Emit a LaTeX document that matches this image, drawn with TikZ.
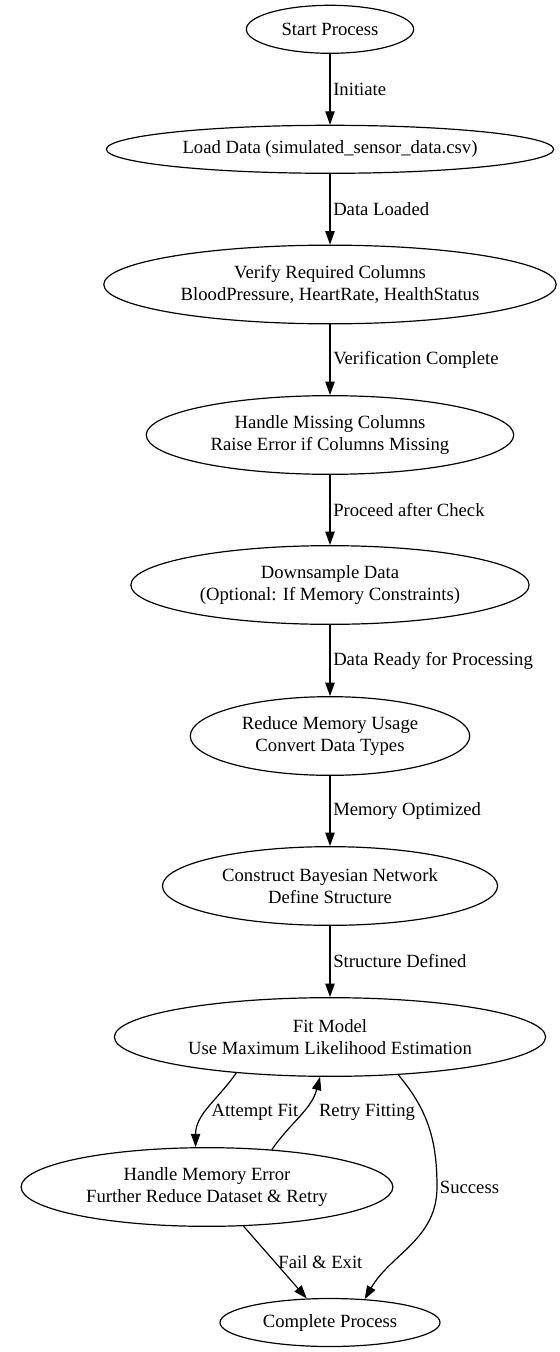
\documentclass[tikz,border=0pt]{standalone}
\usepackage{fontspec}
\setmainfont{Liberation Serif}
\usetikzlibrary{shapes.geometric, arrows.meta}
\tikzstyle{arrow} = [line width=0.9pt,-{Triangle[length=10pt,width=7pt]}]

\begin{document}
\begin{tikzpicture}[
            x=0.75pt, y=-0.75pt,
            proc/.style={draw, ellipse, line width=0.9pt, inner xsep=8pt, inner ysep=4pt,
                minimum height=36pt, align=center, font=\fontsize{14}{16.8}\selectfont},
            proctwo/.style={proc, minimum height=59pt},
            lbl/.style={inner sep=2pt, font=\fontsize{14}{16.8}\selectfont}
        ]
            \useasboundingbox (0,0) rectangle (560,1352);
            % main chain
            \node[proc] (start) at (330,29.3) {Start Process};
            \node[proc] (load) at (330,149.3) {Load Data (simulated\_sensor\_data.csv)};
            \node[proctwo] (verify) at (330,284.5) {Verify Required Columns\\BloodPressure, HeartRate, HealthStatus};
            \node[proctwo] (missing) at (330,435) {Handle Missing Columns\\Raise Error if Columns Missing};
            \node[proctwo] (downsample) at (330,585) {Downsample Data\\(Optional: If Memory Constraints)};
            \node[proctwo] (reduce) at (330,736) {Reduce Memory Usage\\Convert Data Types};
            \node[proctwo] (construct) at (330,886) {Construct Bayesian Network\\Define Structure};
            \node[proctwo] (fit) at (330,1037) {Fit Model\\Use Maximum Likelihood Estimation};
            \node[proctwo] (memerr) at (207,1187) {Handle Memory Error\\Further Reduce Dataset \& Retry};
            \node[proc] (complete) at (330,1322.5) {Complete Process};

            \draw[arrow] (start) -- node[lbl, right] {Initiate} (load);
            \draw[arrow] (load) -- node[lbl, right] {Data Loaded} (verify);
            \draw[arrow] (verify) -- node[lbl, right] {Verification Complete} (missing);
            \draw[arrow] (missing) -- node[lbl, right] {Proceed after Check} (downsample);
            \draw[arrow] (downsample) -- node[lbl, right] {Data Ready for Processing} (reduce);
            \draw[arrow] (reduce) -- node[lbl, right] {Memory Optimized} (construct);
            \draw[arrow] (construct) -- node[lbl, right] {Structure Defined} (fit);

            % fitting loop
            \draw[arrow] (fit.201) to[out=235, in=90] (memerr.106);
            \draw[arrow] (memerr.30) to[out=55, in=255] (fit.256);
            \node[lbl] (attempt) at (255,1112) {Attempt Fit};
            \node[lbl] (retry) at (367,1112) {Retry Fitting};

            % exits
            \coordinate (sbend) at (437,1187);
            \draw[arrow] (fit.331) to[out=-50, in=90] (sbend) to[out=-90, in=60] (complete.34);
            \node[lbl, right] (success) at (sbend) {Success};
            \draw[arrow] (memerr.313) -- node[lbl, right] {Fail \& Exit} (complete.134);
        \end{tikzpicture}
\end{document}
